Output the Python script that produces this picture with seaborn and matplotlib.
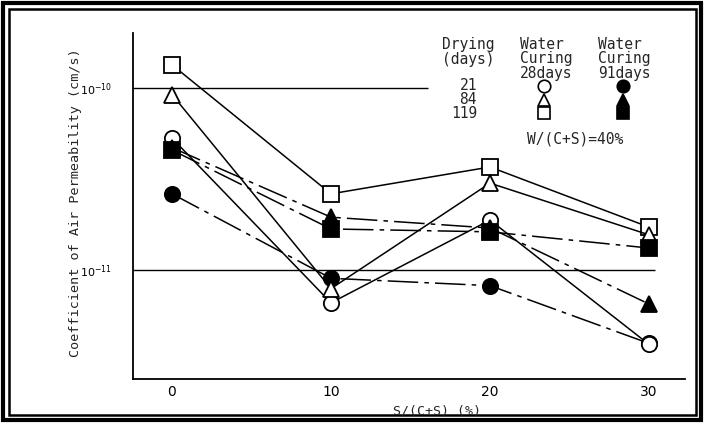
import matplotlib
matplotlib.use("Agg")
import matplotlib.pyplot as plt
from matplotlib.patches import Rectangle
from matplotlib.lines import Line2D
import seaborn as sns
import pandas as pd

# ---- data ----
s_ratio = [0, 10, 20, 30]                      # S/(C+S) (%)
wc28_d21 = [5.3e-11, 6.6e-12, 1.88e-11, 3.9e-12]   # open circle
wc28_d84 = [9.2e-11, 7.9e-12, 3.0e-11, 1.56e-11]   # open triangle
wc28_d119 = [1.34e-10, 2.62e-11, 3.68e-11, 1.72e-11]  # open square
wc91_d21 = [2.62e-11, 9.0e-12, 8.2e-12, 3.95e-12]  # filled circle
wc91_d84 = [4.7e-11, 1.95e-11, 1.70e-11, 6.5e-12]  # filled triangle
wc91_d119 = [4.56e-11, 1.68e-11, 1.62e-11, 1.32e-11]  # filled square
y_ticks = [1e-11, 1e-10]
y_tick_labels = [r'$10^{-11}$', r'$10^{-10}$']
x_ticks = [0, 10, 20, 30]
legend_days = ["21", "84", "119"]

W, H = 707, 423
sns.set_theme(style="white")
plt.rcParams['font.family'] = ['DejaVu Sans']

fig = plt.figure(figsize=(W / 100, H / 100), dpi=100)

def fx(px):
    return px / W

def fy(py):
    return 1 - py / H

ax = fig.add_axes([fx(133), fy(379), fx(685) - fx(133), fy(33) - fy(379)])
ax.set_facecolor("white")

px_per_unit = 15.9
xl = -(172 - 133) / px_per_unit
xr = (685 - 172) / px_per_unit

series = [
    (wc91_d21, 'o', 'black', 'dashdot', 11),
    (wc28_d21, 'o', 'white', 'solid', 11),
    (wc28_d119, 's', 'white', 'solid', 12),
    (wc28_d84, '^', 'white', 'solid', 12),
    (wc91_d84, '^', 'black', 'dashdot', 12),
    (wc91_d119, 's', 'black', 'dashdot', 11),
]
for vals, mk, fc, ls, ms in series:
    df = pd.DataFrame({"x": s_ratio, "y": vals})
    sns.lineplot(data=df, x="x", y="y", ax=ax, color="black", lw=1.1,
                 marker=mk, markersize=ms, markerfacecolor=fc,
                 markeredgecolor="black", markeredgewidth=1.3,
                 sort=False, estimator=None)
    l = ax.lines[-1]
    if ls == 'dashdot':
        l.set_dashes((20, 4, 3, 4))

ax.set_yscale("log")
ax.set_xlim(xl, xr)
ax.set_ylim(10 ** -11.599, 10 ** -9.698)

# horizontal reference lines
ax.hlines(1e-10, xl, (428 - 172) / px_per_unit, color="black", lw=1.0)
ax.hlines(1e-11, xl, (655 - 172) / px_per_unit, color="black", lw=1.0)

for sp in ["top", "right"]:
    ax.spines[sp].set_visible(False)
for sp in ["left", "bottom"]:
    ax.spines[sp].set_color("black")
    ax.spines[sp].set_linewidth(1.3)

ax.set_xticks(x_ticks)
ax.set_xticklabels([str(t) for t in x_ticks], fontsize=10)
ax.set_yticks(y_ticks)
ax.set_yticklabels(y_tick_labels, fontsize=8)
ax.yaxis.set_minor_locator(matplotlib.ticker.NullLocator())
ax.tick_params(axis="x", direction="in", length=4, width=1, pad=4, colors="black")
ax.tick_params(axis="y", length=0, pad=15, colors="black")
ax.set_xlabel("")
ax.set_ylabel("")

mono = "DejaVu Sans Mono"
fig.text(fx(76), fy(203), "Coefficient of Air Permeability (cm/s)", rotation=90,
         ha="center", va="center", fontsize=9.7, family=mono)
fig.text(fx(437), fy(411), "S/(C+S) (%)", ha="center", va="center",
         fontsize=9.5, family=mono)

# legend block
lfs = 10.5
fig.text(fx(468), fy(52), "Drying\n(days)", ha="center", va="center",
         multialignment="center", fontsize=lfs, family=mono, linespacing=0.96)
fig.text(fx(546), fy(59), "Water\nCuring\n28days", ha="center", va="center",
         multialignment="left", fontsize=lfs, family=mono, linespacing=0.96)
fig.text(fx(624), fy(59), "Water\nCuring\n91days", ha="center", va="center",
         multialignment="left", fontsize=lfs, family=mono, linespacing=0.96)
rows_y = [86, 100, 113]
fig.text(fx(477), fy(99.5), "\n".join(legend_days), ha="right", va="center",
         multialignment="right", fontsize=lfs, family=mono, linespacing=0.92)
for mk, yy in zip(['o', '^', 's'], rows_y):
    fig.add_artist(Line2D([fx(544)], [fy(yy)], marker=mk, markersize=9,
                          markerfacecolor="white", markeredgecolor="black",
                          markeredgewidth=1.2, transform=fig.transFigure))
    fig.add_artist(Line2D([fx(623)], [fy(yy)], marker=mk, markersize=9,
                          markerfacecolor="black", markeredgecolor="black",
                          markeredgewidth=1.2, transform=fig.transFigure))
fig.text(fx(575), fy(139), "W/(C+S)=40%", ha="center", va="center", fontsize=lfs, family=mono)

# double frame
fig.add_artist(Rectangle((fx(3), fy(420)), fx(701) - fx(3), fy(3) - fy(420),
                         fill=False, lw=3, edgecolor="black", transform=fig.transFigure))
fig.add_artist(Rectangle((fx(9), fy(415)), fx(696) - fx(9), fy(9) - fy(415),
                         fill=False, lw=1.8, edgecolor="black", transform=fig.transFigure))

fig.savefig("out.png", dpi=100, facecolor="white")
